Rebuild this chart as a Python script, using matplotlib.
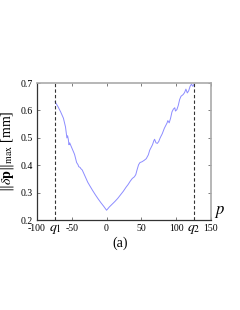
import matplotlib
matplotlib.use("Agg")
import matplotlib.pyplot as plt

plt.rcParams['font.family'] = ['Liberation Serif', 'DejaVu Serif']
plt.rcParams['mathtext.fontset'] = 'stix'

p_vals = [-74, -70, -66, -62, -59, -57, -56, -55, -54, -53, -51, -49, -46, -43, -41, -40,
          -38, -37, -35, -33, -30, -27, -24, -20, -16, -12, -8, -4, 0,
          4, 8, 12, 16, 20, 24, 28, 31, 34, 37, 40, 42, 44, 46, 48, 51, 54, 57, 60, 62,
          64, 66, 68, 69, 71, 73, 75, 77, 80, 83, 85, 87, 88, 90, 92, 94, 96, 98, 99,
          101, 103, 105, 107, 110, 112, 114, 116, 118, 120, 122, 124, 126]
dp_vals = [0.632, 0.615, 0.595, 0.572, 0.540, 0.500, 0.508, 0.495, 0.475, 0.482, 0.470,
           0.458, 0.440, 0.410, 0.402, 0.395, 0.392, 0.388, 0.383, 0.372, 0.355, 0.338,
           0.325, 0.308, 0.292, 0.277, 0.263, 0.250, 0.236,
           0.248, 0.258, 0.268, 0.279, 0.292, 0.305, 0.320, 0.330, 0.342, 0.352, 0.358,
           0.366, 0.385, 0.402, 0.410, 0.413, 0.418, 0.424, 0.438, 0.455, 0.465, 0.475,
           0.490, 0.495, 0.482, 0.480, 0.487, 0.500, 0.515, 0.535, 0.545, 0.555, 0.563,
           0.555, 0.572, 0.595, 0.605, 0.610, 0.598, 0.603, 0.618, 0.640, 0.652, 0.658,
           0.665, 0.678, 0.664, 0.672, 0.688, 0.696, 0.688, 0.697]
q_positions = [-74, 125]
q_labels = [r'$q_1$', r'$q_2$']
x_ticks = [-100, -50, 0, 50, 100, 150]
y_ticks = [0.2, 0.3, 0.4, 0.5, 0.6, 0.7]

fig = plt.figure(figsize=(2.4, 3.1), dpi=100)
ax = fig.add_axes([0.154, 0.290, 0.725, 0.442])
ax.plot(p_vals, dp_vals, color='#8c8cff', lw=0.7)
for q in q_positions:
    ax.axvline(q, color='#333333', ls=(0, (3, 2)), lw=0.8)
ax.set_xlim(-100, 150)
ax.set_ylim(0.2, 0.7)
ax.set_xticks(x_ticks)
ax.set_xticklabels([str(t) for t in x_ticks])
ax.set_yticks(y_ticks)
ax.set_yticklabels([f'{t:.1f}' for t in y_ticks])
ax.tick_params(direction='in', length=2, width=0.6, labelsize=7, top=True, right=True,
               color='#666666', pad=3)
for s in ['top', 'right']:
    ax.spines[s].set_color('#aaaaaa')
    ax.spines[s].set_linewidth(1.2)
for s in ['left', 'bottom']:
    ax.spines[s].set_color('#333333')
    ax.spines[s].set_linewidth(0.9)

for q, lab in zip(q_positions, q_labels):
    ax.annotate(lab, xy=(q, 0), xycoords=('data', 'axes fraction'), xytext=(0, -2),
                textcoords='offset points', ha='center', va='top', fontsize=10)

ax.text(1.02, 0.0, r'$p$', transform=ax.transAxes, fontsize=12, ha='left', va='bottom')
ax.set_ylabel(r'$\|\delta\mathbf{p}\|_{\max}$ [mm]', fontsize=10, labelpad=3)
fig.text(0.5, 1 - 243 / 310, '(a)', ha='center', va='center', fontsize=10)

fig.savefig('out.png', dpi=100)
